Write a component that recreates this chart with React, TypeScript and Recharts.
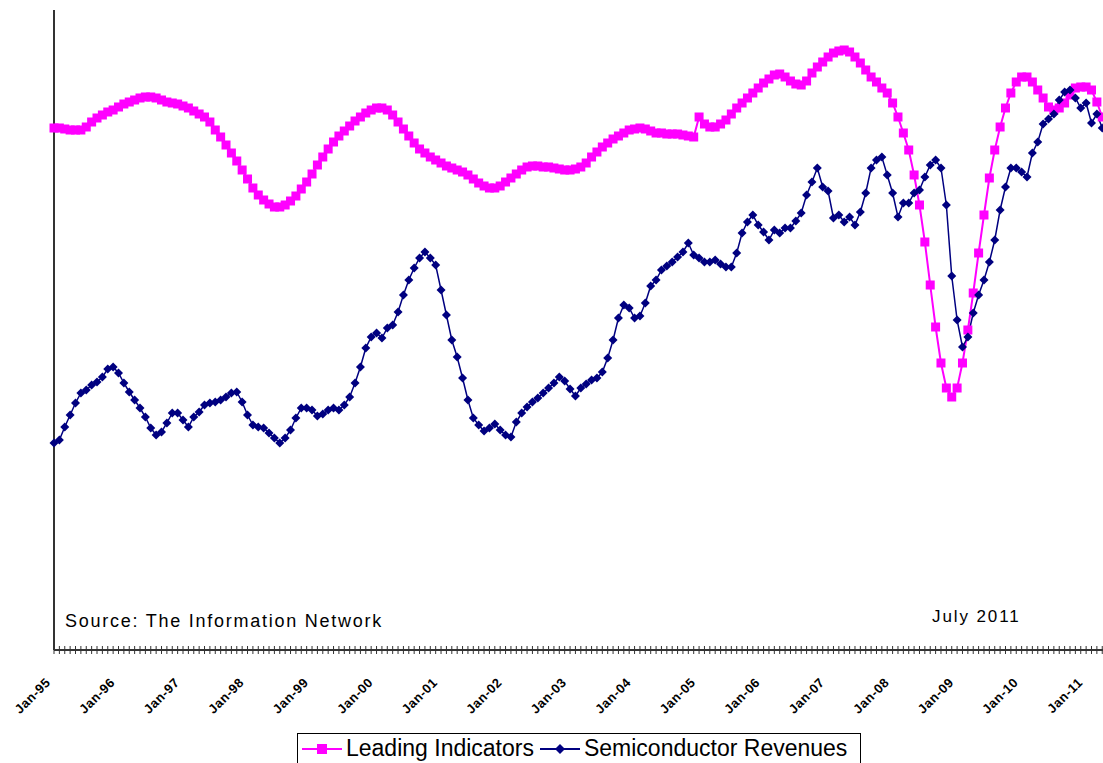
import { LineChart, Line, XAxis, YAxis, Text, Rectangle } from "recharts";

// monthly readings, Jan-95 .. Jun-11 (index units)
const leadingIndicators = [
  52.2, 52.2, 52.1, 52.0, 52.0, 52.0, 52.3, 52.8, 53.2, 53.5, 53.8, 54.0,
  54.3, 54.6, 54.8, 55.0, 55.2, 55.3, 55.3, 55.2, 55.0, 54.8, 54.7, 54.6,
  54.4, 54.2, 53.9, 53.6, 53.3, 52.8, 52.0, 51.3, 50.5, 49.7, 48.9, 48.0,
  47.1, 46.2, 45.5, 45.0, 44.6, 44.3, 44.3, 44.5, 44.9, 45.4, 46.1, 46.8,
  47.6, 48.5, 49.3, 50.1, 50.8, 51.4, 51.9, 52.4, 52.9, 53.3, 53.7, 54.0,
  54.2, 54.2, 54.0, 53.5, 52.8, 52.1, 51.4, 50.7, 50.1, 49.7, 49.3, 49.0,
  48.7, 48.4, 48.2, 48.0, 47.8, 47.5, 47.1, 46.7, 46.4, 46.2, 46.2, 46.4,
  46.8, 47.2, 47.6, 48.0, 48.3, 48.4, 48.4, 48.3, 48.3, 48.2, 48.1, 48.0,
  48.0, 48.1, 48.3, 48.7, 49.3, 49.8, 50.3, 50.7, 51.1, 51.4, 51.7, 52.0,
  52.1, 52.2, 52.1, 51.9, 51.7, 51.7, 51.6, 51.6, 51.6, 51.5, 51.4, 51.3,
  53.3, 52.6, 52.3, 52.3, 52.6, 53.0, 53.6, 54.2, 54.7, 55.2, 55.7, 56.2,
  56.7, 57.1, 57.5, 57.6, 57.3, 56.9, 56.6, 56.5, 56.9, 57.7, 58.3, 58.8,
  59.3, 59.7, 59.9, 60.0, 59.8, 59.3, 58.7, 58.0, 57.3, 56.8, 56.2, 55.7,
  54.7, 53.3, 51.7, 50.0, 47.5, 44.5, 40.8, 36.5, 32.3, 28.7, 26.2, 25.3,
  26.2, 28.7, 32.0, 35.7, 39.7, 43.5, 47.2, 50.0, 52.3, 54.2, 55.7, 56.8,
  57.3, 57.3, 56.8, 56.0, 55.2, 54.3, 54.0, 54.2, 54.7, 55.5, 56.2, 56.3,
  56.3, 56.0, 54.8, 53.3, 52.5, 52.0,
];

const semiRevenues = [
  20.7, 21.0, 22.3, 23.5, 24.7, 25.7, 26.0, 26.5, 26.8, 27.3, 28.1, 28.3,
  27.7, 26.7, 25.8, 25.0, 24.2, 23.3, 22.2, 21.5, 21.8, 22.7, 23.7, 23.7,
  23.0, 22.3, 23.3, 23.8, 24.5, 24.7, 24.8, 25.0, 25.3, 25.7, 25.8, 24.8,
  23.5, 22.5, 22.3, 22.2, 21.7, 21.2, 20.7, 21.2, 22.0, 23.2, 24.2, 24.2,
  24.0, 23.4, 23.6, 24.0, 24.2, 24.0, 24.5, 25.3, 26.7, 28.3, 30.2, 31.3,
  31.7, 31.2, 32.2, 32.5, 33.8, 35.5, 37.0, 38.2, 39.2, 39.8, 39.2, 38.5,
  36.0, 33.5, 31.0, 29.3, 27.2, 25.0, 23.2, 22.5, 21.9, 22.2, 22.6, 22.0,
  21.5, 21.3, 22.8, 23.7, 24.3, 24.8, 25.2, 25.7, 26.2, 26.7, 27.3, 26.9,
  26.1, 25.4, 26.2, 26.6, 27.0, 27.2, 27.8, 29.2, 31.0, 33.2, 34.5, 34.2,
  33.2, 33.4, 34.7, 36.4, 37.0, 38.0, 38.4, 38.8, 39.3, 39.8, 40.7, 39.5,
  39.2, 38.8, 38.8, 39.0, 38.6, 38.3, 38.3, 39.7, 41.7, 42.8, 43.5, 42.5,
  41.8, 41.0, 42.0, 41.7, 42.2, 42.2, 42.9, 43.7, 45.5, 46.8, 48.2, 46.3,
  45.9, 43.2, 43.5, 42.8, 43.3, 42.5, 43.8, 45.7, 48.2, 49.0, 49.3, 47.5,
  45.7, 43.3, 44.7, 44.7, 45.7, 46.0, 47.3, 48.5, 49.0, 48.2, 44.5, 37.4,
  33.0, 30.3, 31.3, 33.7, 35.5, 37.0, 38.8, 41.0, 44.0, 46.3, 48.2, 48.2,
  47.8, 47.3, 49.7, 50.8, 52.6, 53.1, 53.6, 55.0, 55.8, 56.0, 55.2, 54.2,
  54.7, 52.7, 53.6, 52.2, 52.5, 52.8,
];

const monthNames = ["Jan", "Feb", "Mar", "Apr", "May", "Jun", "Jul", "Aug", "Sep", "Oct", "Nov", "Dec"];
const firstYear = 1995;

const data = leadingIndicators.map((lead, i) => ({
  month: `${monthNames[i % 12]}-${String((firstYear + Math.floor(i / 12)) % 100).padStart(2, "0")}`,
  lead,
  semi: semiRevenues[i],
}));

const FONT = '"Liberation Sans", Arial, sans-serif';
const PINK = "#FF00FF";
const NAVY = "#000080";

// y is the end of the 4px tick below the axis; the stub above the axis is added here
function renderMonthTick(props: any) {
  const { x, y, payload, index } = props;
  const label: string = payload.value;
  return (
    <g key={`tick-${index}`}>
      <Rectangle x={x - 0.5} y={y - 8} width={1} height={4} fill="#333" stroke="none" />
      {label.startsWith("Jan") ? (
        <Text
          x={x - 6}
          y={y + 26}
          angle={-45}
          textAnchor="end"
          verticalAnchor="middle"
          fontFamily={FONT}
          fontSize={13}
          fontWeight="bold"
          letterSpacing={0.5}
          fill="#000"
        >
          {label}
        </Text>
      ) : null}
    </g>
  );
}

function SquareDot({ cx, cy, index }: any) {
  return <rect key={`sq-${index}`} x={cx - 4.5} y={cy - 4.5} width={9} height={9} fill={PINK} />;
}

function DiamondDot({ cx, cy, index }: any) {
  return (
    <polygon
      key={`dm-${index}`}
      points={`${cx},${cy - 4.5} ${cx + 4.5},${cy} ${cx},${cy + 4.5} ${cx - 4.5},${cy}`}
      fill={NAVY}
    />
  );
}

export default function App() {
  return (
    <div
      style={{
        position: "absolute",
        left: 0,
        top: 0,
        width: 1103,
        height: 763,
        overflow: "hidden",
        background: "#fff",
      }}
    >
      <LineChart width={1113} height={763} data={data} margin={{ top: 10, right: 0, bottom: 0, left: 0 }}>
        <XAxis
          dataKey="month"
          interval={0}
          height={113}
          tick={renderMonthTick}
          tickLine={{ stroke: "#333", strokeWidth: 1 }}
          tickSize={4}
          tickMargin={0}
          minTickGap={0}
          axisLine={{ stroke: "#333", strokeWidth: 2 }}
        />
        <YAxis
          width={54}
          domain={[0, 64]}
          tick={false}
          tickLine={false}
          axisLine={{ stroke: "#333", strokeWidth: 2 }}
        />
        <Line
          type="linear"
          dataKey="lead"
          stroke={PINK}
          strokeWidth={2}
          dot={SquareDot}
          isAnimationActive={false}
        />
        <Line
          type="linear"
          dataKey="semi"
          stroke={NAVY}
          strokeWidth={1.5}
          dot={DiamondDot}
          isAnimationActive={false}
        />
      </LineChart>

      <div
        style={{
          position: "absolute",
          left: 65,
          top: 611,
          fontFamily: FONT,
          fontSize: 18,
          letterSpacing: 1.75,
          color: "#000",
          whiteSpace: "nowrap",
        }}
      >
        Source: The Information Network
      </div>
      <div
        style={{
          position: "absolute",
          left: 932,
          top: 607,
          fontFamily: FONT,
          fontSize: 17,
          letterSpacing: 1.9,
          color: "#000",
          whiteSpace: "nowrap",
        }}
      >
        July 2011
      </div>

      <div
        style={{
          position: "absolute",
          left: 297,
          top: 733,
          width: 564,
          height: 40,
          border: "1px solid #000",
          boxSizing: "border-box",
          display: "flex",
          alignItems: "flex-start",
          fontFamily: FONT,
          fontSize: 23,
          color: "#000",
          whiteSpace: "nowrap",
          paddingTop: 1,
        }}
      >
        <svg width={44} height={28} style={{ flex: "none", marginLeft: 2 }}>
          <line x1={2} y1={14} x2={42} y2={14} stroke={PINK} strokeWidth={2} />
          <rect x={17} y={9} width={10} height={10} fill={PINK} />
        </svg>
        <span style={{ marginLeft: 2 }}>Leading Indicators</span>
        <svg width={44} height={28} style={{ flex: "none", marginLeft: 4 }}>
          <line x1={2} y1={14} x2={42} y2={14} stroke={NAVY} strokeWidth={2} />
          <polygon points="22,9 27,14 22,19 17,14" fill={NAVY} />
        </svg>
        <span style={{ marginLeft: 2 }}>Semiconductor Revenues</span>
      </div>
    </div>
  );
}
